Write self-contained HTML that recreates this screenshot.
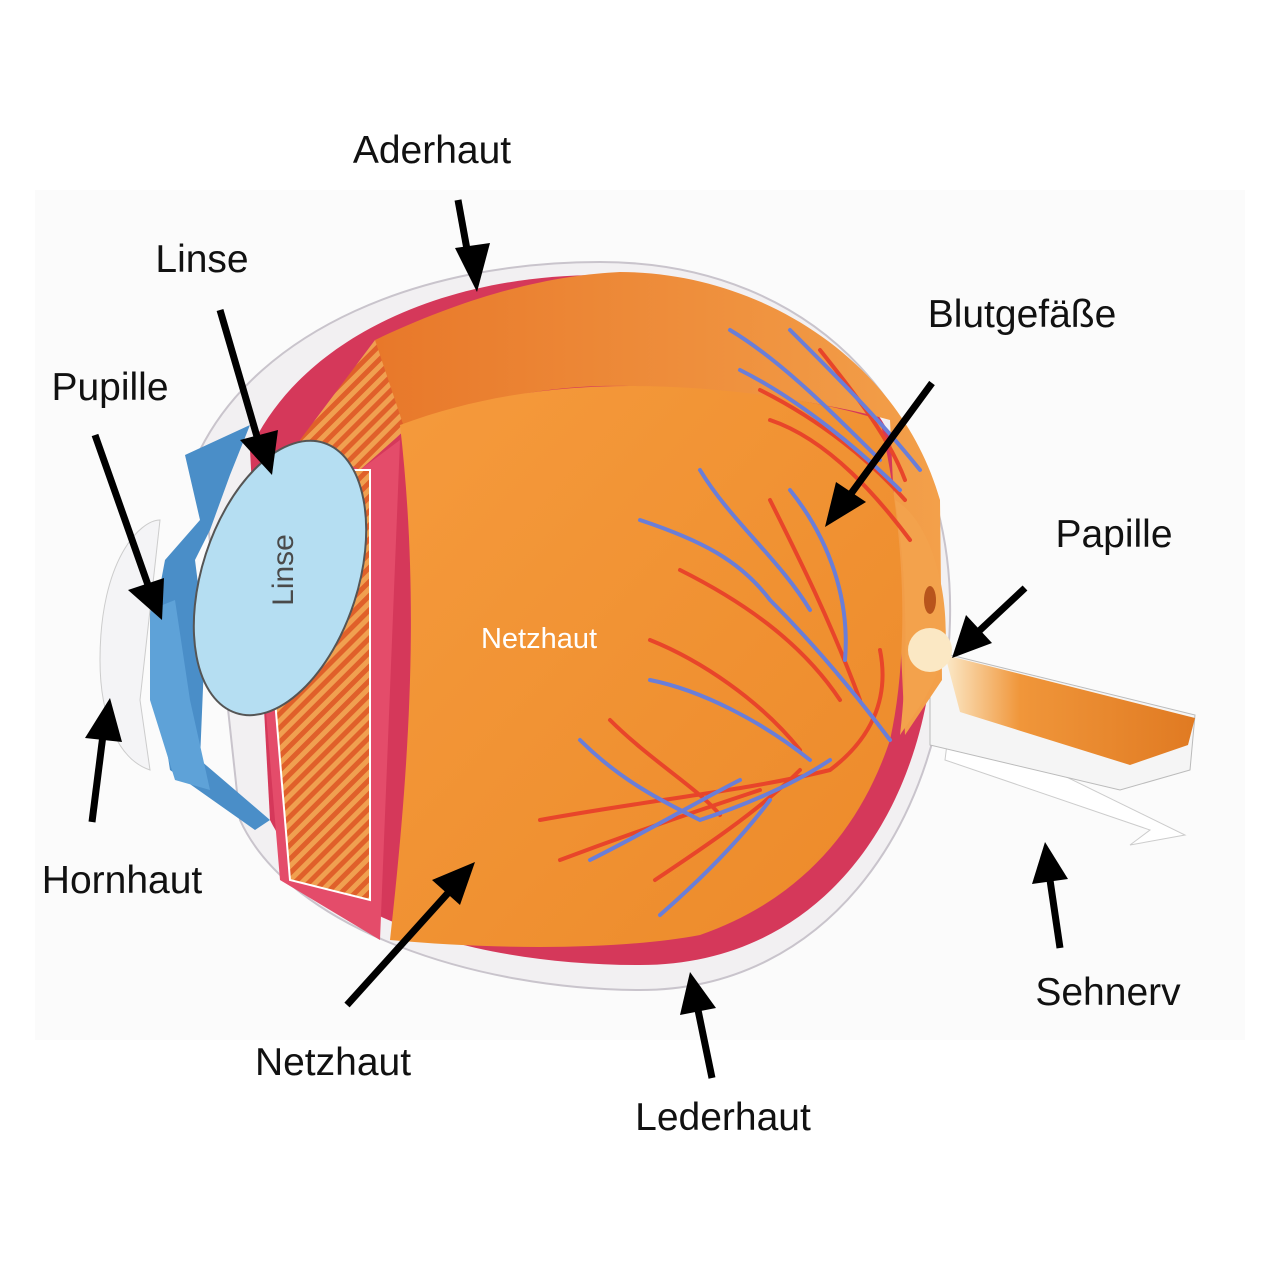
<!DOCTYPE html>
<html><head><meta charset="utf-8"><style>
html,body{margin:0;padding:0;background:#fff;}
svg{display:block;}
text{font-family:"Liberation Sans",sans-serif;}
</style></head><body>
<svg width="1280" height="1280" viewBox="0 0 1280 1280" xmlns="http://www.w3.org/2000/svg">
<defs>
<linearGradient id="og" x1="0" y1="0" x2="1" y2="1"><stop offset="0" stop-color="#f59a3c"/><stop offset="1" stop-color="#ec8a2a"/></linearGradient>
<linearGradient id="wall" x1="0" y1="0" x2="1" y2="0"><stop offset="0" stop-color="#e8782a"/><stop offset="1" stop-color="#f3a04a"/></linearGradient>
<linearGradient id="nerve" x1="0" y1="0" x2="1" y2="0"><stop offset="0" stop-color="#fbe9c8"/><stop offset="0.3" stop-color="#f0963a"/><stop offset="1" stop-color="#e07a22"/></linearGradient>
<pattern id="str" width="10" height="10" patternUnits="userSpaceOnUse" patternTransform="rotate(45)"><rect width="10" height="10" fill="#f0a050"/><rect width="5" height="10" fill="#e0602a"/></pattern>
</defs>
<rect width="1280" height="1280" fill="#fff"/>
<rect x="35" y="190" width="1210" height="850" fill="#fbfbfb"/>
<!-- sclera -->
<path d="M600 262 C820 262 955 420 950 620 C945 820 830 990 640 990 C480 990 290 930 240 820 L200 450 C260 330 420 262 600 262Z" fill="#f2f0f2" stroke="#c9c4cc" stroke-width="2"/>
<!-- choroid red -->
<path d="M600 275 C800 275 935 420 935 610 C935 800 830 965 640 965 C480 965 320 920 270 820 L250 450 C300 340 440 275 600 275Z" fill="#d5385a"/>
<!-- optic nerve -->
<path d="M950 720 L1185 835 L1130 845 L1150 830 L945 760Z" fill="#fff" stroke="#ccc"/>
<path d="M930 650 L1195 715 L1190 770 L1120 790 L930 745Z" fill="#f5f5f5" stroke="#bbb"/>
<path d="M945 655 L1195 718 L1188 745 L1130 765 L960 712 Z" fill="url(#nerve)"/>
<!-- back wall -->
<path d="M375 340 C480 290 560 275 620 272 C760 272 900 360 940 500 L942 680 L905 735 L890 420 C800 395 680 385 600 386 C520 388 450 410 400 430Z" fill="url(#wall)"/>
<!-- ciliary -->
<path d="M300 440 L375 340 L405 430 L360 470Z" fill="url(#str)"/>
<path d="M300 440 L360 470 L400 440 L380 940 L280 880 L265 700Z" fill="#e44c6a"/>
<path d="M275 700 L350 470 L370 470 L370 900 L290 880Z" fill="url(#str)" stroke="#fff" stroke-width="2"/>
<!-- retina floor -->
<path d="M400 425 C480 395 560 386 630 386 C720 386 820 400 880 420 C905 530 910 650 890 740 C860 830 800 900 700 935 C620 950 500 950 390 940 C410 760 420 600 400 425Z" fill="url(#og)"/>
<!-- papille disk -->
<path d="M895 500 C930 520 950 590 945 650 C935 690 910 720 900 735 C910 650 905 560 895 500Z" fill="#f3a24c"/>
<ellipse cx="930" cy="650" rx="22" ry="22" fill="#fbe8c4"/>
<ellipse cx="930" cy="600" rx="6" ry="14" fill="#b8541c"/>
<!-- cornea -->
<path d="M185 455 L250 425 L230 475 L210 530 L195 560 L205 640 L200 760 L270 820 L255 830 L170 770 L150 640 L165 560 L200 520Z" fill="#4a8ec8"/>
<path d="M150 610 L175 600 L190 700 L210 790 L175 780 L150 700Z" fill="#5ea2d8"/>
<path d="M100 660 C100 560 140 520 160 520 L140 700 L150 770 C120 760 100 720 100 660Z" fill="#f4f4f6" stroke="#ccc"/>
<!-- lens -->
<ellipse cx="280" cy="578" rx="78" ry="142" transform="rotate(18 280 578)" fill="#b5def2" stroke="#555" stroke-width="2"/>
<text x="0" y="0" transform="translate(293 570) rotate(-90)" text-anchor="middle" font-size="30" fill="#4a4a4a">Linse</text>
<!-- vessels -->
<g fill="none" stroke-width="4" stroke-linecap="round">
<g stroke="#e8452a">
<path d="M540 820 C650 800 750 790 830 770 C870 740 890 700 880 650"/>
<path d="M610 720 C650 760 700 790 720 815"/>
<path d="M650 640 C700 660 760 700 800 750"/>
<path d="M680 570 C740 600 800 640 840 700"/>
<path d="M770 500 C800 560 830 620 860 700"/>
<path d="M560 860 C640 830 700 810 760 790"/>
<path d="M655 880 C700 850 760 810 800 770"/>
<path d="M760 390 C820 420 870 460 905 500"/>
<path d="M770 420 C830 440 880 500 910 540"/>
<path d="M820 350 C860 400 890 440 905 480"/>
</g>
<g stroke="#6a7ed8">
<path d="M640 520 C700 540 740 560 770 600 C820 650 860 700 890 740"/>
<path d="M700 470 C730 520 780 560 810 610"/>
<path d="M790 490 C830 540 850 600 845 660"/>
<path d="M580 740 C620 780 660 800 700 820 C760 800 800 780 830 760"/>
<path d="M590 860 C650 830 700 800 740 780"/>
<path d="M660 915 C700 880 740 840 770 800"/>
<path d="M650 680 C700 690 760 720 810 760"/>
<path d="M730 330 C780 360 830 410 880 460"/>
<path d="M740 370 C800 400 860 450 900 490"/>
<path d="M790 330 C840 380 880 420 920 470"/>
</g>
</g>
<text x="539" y="648" text-anchor="middle" font-size="29" fill="#fff">Netzhaut</text>
<!-- labels -->
<g font-size="39" fill="#111">
<text x="432" y="163" text-anchor="middle">Aderhaut</text>
<text x="202" y="272" text-anchor="middle">Linse</text>
<text x="110" y="400" text-anchor="middle">Pupille</text>
<text x="1022" y="327" text-anchor="middle">Blutgefäße</text>
<text x="1114" y="547" text-anchor="middle">Papille</text>
<text x="122" y="893" text-anchor="middle">Hornhaut</text>
<text x="1108" y="1005" text-anchor="middle">Sehnerv</text>
<text x="333" y="1075" text-anchor="middle">Netzhaut</text>
<text x="723" y="1130" text-anchor="middle">Lederhaut</text>
</g>
<!-- arrows -->
<g stroke="#000" stroke-width="7" fill="#000">
<line x1="458" y1="200" x2="468" y2="255"/><polygon stroke="none" points="455,248 490,243 477,292"/>
<line x1="220" y1="310" x2="258" y2="440"/><polygon stroke="none" points="240,440 278,430 272,475"/>
<line x1="95" y1="435" x2="148" y2="585"/><polygon stroke="none" points="128,590 164,578 162,620"/>
<line x1="92" y1="822" x2="103" y2="735"/><polygon stroke="none" points="85,738 122,742 110,698"/>
<line x1="347" y1="1005" x2="448" y2="893"/><polygon stroke="none" points="432,880 460,905 475,862"/>
<line x1="712" y1="1078" x2="698" y2="1010"/><polygon stroke="none" points="680,1015 716,1008 690,972"/>
<line x1="1060" y1="948" x2="1050" y2="880"/><polygon stroke="none" points="1032,884 1068,879 1045,842"/>
<line x1="1025" y1="588" x2="978" y2="632"/><polygon stroke="none" points="966,615 992,643 952,658"/>
<line x1="932" y1="383" x2="850" y2="495"/><polygon stroke="none" points="836,482 866,502 825,527"/>
</g>
</svg>
</body></html>
